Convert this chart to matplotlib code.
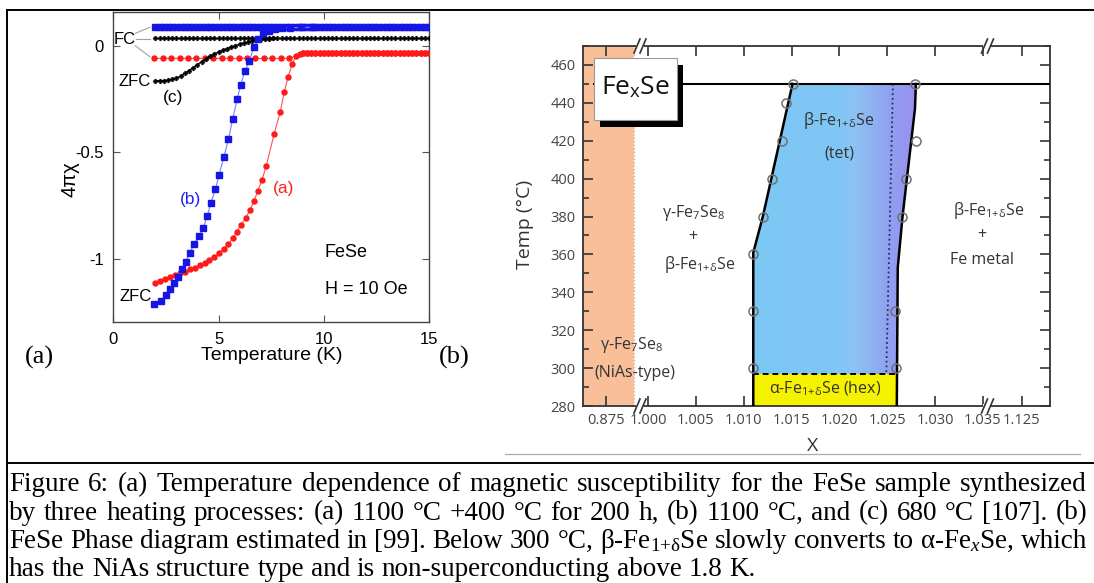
import numpy as np
import matplotlib
matplotlib.use("Agg")
import matplotlib.pyplot as plt
from matplotlib.lines import Line2D
from matplotlib.patches import Rectangle, Polygon
from matplotlib.colors import LinearSegmentedColormap

plt.rcParams["axes.unicode_minus"] = False
plt.rcParams["mathtext.fontset"] = "custom"
plt.rcParams["mathtext.rm"] = "Liberation Serif"
plt.rcParams["mathtext.it"] = "Liberation Serif:italic"

# ======================= DATA: panel (a) =======================
# FC temperatures (K) shared by the field-cooled curves
T_fc = [2.0, 2.2, 2.4, 2.6, 2.8, 3.0, 3.2, 3.4, 3.6, 3.8,
        4.0, 4.2, 4.4, 4.6, 4.8, 5.0, 5.2, 5.4, 5.6, 5.8,
        6.0, 6.2, 6.4, 6.6, 6.8, 7.0, 7.2, 7.4, 7.6, 7.8,
        8.0, 8.2, 8.4, 8.6, 8.8, 9.0, 9.2, 9.4, 9.6, 9.8,
        10.0, 10.2, 10.4, 10.6, 10.8, 11.0, 11.2, 11.4, 11.6, 11.8,
        12.0, 12.2, 12.4, 12.6, 12.8, 13.0, 13.2, 13.4, 13.6, 13.8,
        14.0, 14.2, 14.4, 14.6, 14.8, 15.0]
# (b) 1100 C  - blue, FC
chi_b_fc = [0.086, 0.086, 0.086, 0.086, 0.086, 0.086, 0.086, 0.086, 0.086, 0.086,
            0.086, 0.086, 0.086, 0.086, 0.086, 0.086, 0.086, 0.086, 0.086, 0.086,
            0.086, 0.086, 0.086, 0.086, 0.086, 0.086, 0.086, 0.086, 0.086, 0.086,
            0.086, 0.086, 0.086, 0.086, 0.086, 0.086, 0.086, 0.086, 0.086, 0.086,
            0.086, 0.086, 0.086, 0.086, 0.086, 0.086, 0.086, 0.086, 0.086, 0.086,
            0.086, 0.086, 0.086, 0.086, 0.086, 0.086, 0.086, 0.086, 0.086, 0.086,
            0.086, 0.086, 0.086, 0.086, 0.086, 0.086]
# (c) 680 C - black, FC
chi_c_fc = [0.034, 0.034, 0.034, 0.034, 0.034, 0.034, 0.034, 0.034, 0.034, 0.034,
            0.034, 0.034, 0.034, 0.034, 0.034, 0.034, 0.034, 0.034, 0.034, 0.034,
            0.034, 0.034, 0.034, 0.034, 0.034, 0.034, 0.034, 0.034, 0.034, 0.034,
            0.034, 0.034, 0.034, 0.034, 0.034, 0.034, 0.034, 0.034, 0.034, 0.034,
            0.034, 0.034, 0.034, 0.034, 0.034, 0.034, 0.034, 0.034, 0.034, 0.034,
            0.034, 0.034, 0.034, 0.034, 0.034, 0.034, 0.034, 0.034, 0.034, 0.034,
            0.034, 0.034, 0.034, 0.034, 0.034, 0.034]

# (b) ZFC - blue
T_b_zfc = [1.95, 2.25, 2.49, 2.69, 2.88, 3.06, 3.25, 3.44, 3.63, 3.85,
           4.09, 4.28, 4.47, 4.64, 4.85, 5.02, 5.26, 5.47, 5.67, 5.89,
           6.05, 6.26, 6.46, 6.68, 6.89, 7.13, 7.40, 7.70, 8.00, 8.40,
           8.90, 9.50]
chi_b_zfc = [-1.211, -1.197, -1.169, -1.142, -1.114, -1.083, -1.048, -1.012, -0.970, -0.928,
             -0.892, -0.853, -0.797, -0.736, -0.673, -0.608, -0.520, -0.439, -0.345, -0.248,
             -0.184, -0.119, -0.072, -0.008, 0.031, 0.058, 0.070, 0.077, 0.081, 0.084,
             0.085, 0.086]

# (c) ZFC - black
T_c_zfc = [2.0, 2.2, 2.4, 2.6, 2.8, 3.0, 3.2, 3.4, 3.6, 3.8,
           4.0, 4.2, 4.4, 4.6, 4.8, 5.0, 5.2, 5.4, 5.6, 5.8,
           6.0, 6.2, 6.4, 6.6, 6.8, 7.0, 7.2, 7.4, 7.6]
chi_c_zfc = [-0.164, -0.164, -0.164, -0.162, -0.158, -0.152, -0.143, -0.130, -0.117, -0.103,
             -0.089, -0.075, -0.062, -0.050, -0.039, -0.030, -0.022, -0.014, -0.007, 0.000,
             0.006, 0.012, 0.017, 0.022, 0.026, 0.029, 0.031, 0.033, 0.034]

# (a) 1100 C + 400 C - red
T_a_fc = [1.95, 2.35, 2.75, 3.15, 3.55, 3.95, 4.35, 4.75, 5.15, 5.55,
          5.95, 6.35, 6.75, 7.15, 7.55, 7.95, 8.35]
chi_a_fc = [-0.060, -0.060, -0.060, -0.060, -0.060, -0.060, -0.060, -0.060, -0.060, -0.060,
            -0.060, -0.060, -0.060, -0.060, -0.060, -0.060, -0.060]
T_a_zfc = [2.00, 2.23, 2.47, 2.71, 2.95, 3.18, 3.42, 3.66, 3.88, 4.10,
           4.34, 4.56, 4.80, 5.02, 5.26, 5.47, 5.67, 5.88, 6.08, 6.29,
           6.50, 6.68, 6.87, 7.07, 7.26, 7.64, 7.93, 8.12, 8.30, 8.50,
           8.68, 8.85]
chi_a_zfc = [-1.114, -1.103, -1.092, -1.083, -1.077, -1.067, -1.059, -1.048, -1.041, -1.030,
             -1.019, -1.005, -0.989, -0.973, -0.952, -0.930, -0.903, -0.872, -0.839, -0.808,
             -0.770, -0.729, -0.680, -0.628, -0.566, -0.415, -0.311, -0.219, -0.147, -0.087,
             -0.048, -0.038]
T_a_high = [9.0, 9.2, 9.4, 9.6, 9.8, 10.0, 10.2, 10.4, 10.6, 10.8,
            11.0, 11.2, 11.4, 11.6, 11.8, 12.0, 12.2, 12.4, 12.6, 12.8,
            13.0, 13.2, 13.4, 13.6, 13.8, 14.0, 14.2, 14.4, 14.6, 14.8, 15.0]
chi_a_high = [-0.036, -0.036, -0.036, -0.036, -0.036, -0.036, -0.036, -0.036, -0.036, -0.036,
              -0.036, -0.036, -0.036, -0.036, -0.036, -0.036, -0.036, -0.036, -0.036, -0.036,
              -0.036, -0.036, -0.036, -0.036, -0.036, -0.036, -0.036, -0.036, -0.036, -0.036,
              -0.036]

a_xticks = [0, 5, 10, 15]
a_yticks = [0, -0.5, -1]
a_yticklabels = ["0", "-0.5", "-1"]

# ======================= DATA: panel (b) =======================
b_xticks = [0.875, 1.000, 1.005, 1.010, 1.015, 1.020, 1.025, 1.030, 1.035, 1.125]
b_xticklabels = ["0.875", "1.000", "1.005", "1.010", "1.015", "1.020", "1.025",
                 "1.030", "1.035", "1.125"]
b_yticks = [280, 300, 320, 340, 360, 380, 400, 420, 440, 460]

# measured boundary points (open circles)
left_pts_x = [1.0151, 1.0144, 1.0140, 1.0130, 1.0120, 1.0110, 1.0110, 1.0110]
left_pts_T = [450, 440, 420, 400, 380, 360, 330, 300]
right_pts_x = [1.0279, 1.0280, 1.0270, 1.0265, 1.0258, 1.0259]
right_pts_T = [450, 420, 400, 380, 330, 300]
# drawn phase boundaries
left_line_x = [1.0151, 1.0120, 1.0110, 1.0110]
left_line_T = [450, 380, 361, 280]
right_line_x = [1.0280, 1.0279, 1.0266, 1.0261, 1.0260]
right_line_T = [450, 437, 380, 353, 280]
# dotted line inside beta region
dotted_x = [1.0256, 1.0249]
dotted_T = [450, 297]
T_top = 450          # upper horizontal line
T_alpha = 297        # alpha / beta transition (dashed)
alpha_x = [1.011, 1.026]
gamma_right = 0.87796  # edge of the gamma-Fe7Se8 band
# colour gradient across the beta region
grad_x = [1.0105, 1.0200, 1.0215, 1.0235, 1.0255, 1.0285]
grad_c = ["#7cc7f4", "#80c6f4", "#8cc2f4", "#8fb1f1", "#8f9ef0", "#9c8cef"]

# ======================= FIGURE =======================
W, H = 1094, 583
fig = plt.figure(figsize=(W / 100, H / 100), dpi=100)


def fx(px):
    return px / W


def fy(py):
    return 1 - py / H


# ---------------- panel (a) ----------------
ax1 = fig.add_axes([fx(113.3), fy(322), fx(429) - fx(113.3), fy(11.7) - fy(322)])
ax1.set_xlim(0, 15)
ax1.set_ylim(-1.295, 0.159)

red, blue = "#ff1a1a", "#1515e6"
ax1.plot(T_a_fc + T_a_high, chi_a_fc + chi_a_high, "-o", color="#ff5050", lw=0.8,
         ms=3.6, mfc=red, mec=red, zorder=3)
ax1.plot(T_a_zfc + T_a_high, chi_a_zfc + chi_a_high, "-o", color="#ff5050", lw=0.8,
         ms=3.6, mfc=red, mec=red, zorder=3)
ax1.plot(T_fc, chi_c_fc, "-P", color="black", lw=1.0, ms=3.4, mew=0.3, zorder=4)
ax1.plot(T_c_zfc, chi_c_zfc, "-P", color="black", lw=1.0, ms=3.4, mew=0.3, zorder=4)
ax1.plot(T_fc, chi_b_fc, "-s", color=blue, lw=0.8, ms=4.0, mfc=blue, mec=blue, zorder=5)
ax1.plot(T_b_zfc, chi_b_zfc, "-s", color="#7080ff", lw=0.8, ms=4.0, mfc=blue, mec=blue,
         zorder=5)

ax1.set_xticks(a_xticks)
ax1.set_yticks(a_yticks)
ax1.set_yticklabels(a_yticklabels)
ax1.tick_params(direction="in", top=True, right=True, length=5, width=0.8,
                colors="#555", labelcolor="black", labelsize=12, pad=7)
for lab in ax1.get_xticklabels() + ax1.get_yticklabels():
    lab.set_family("Liberation Sans")
for s in ax1.spines.values():
    s.set_color("#444")
    s.set_linewidth(1.0)

sans = "Liberation Sans"
ax1.text(1.05, 0.027, "FC", ha="right", va="center", fontsize=12, family=sans)
for (x0, y0, x1, y1) in [(1.05, 0.058, 1.74, 0.086), (1.08, 0.032, 1.74, 0.032),
                         (1.05, -0.001, 1.74, -0.052)]:
    ax1.plot([x0, x1], [y0, y1], color="#a0a0a0", lw=0.8, zorder=2)
ax1.text(1.76, -0.169, "ZFC", ha="right", va="center", fontsize=12, family=sans)
ax1.text(1.84, -1.177, "ZFC", ha="right", va="center", fontsize=12, family=sans)
ax1.text(2.85, -0.242, "(c)", ha="center", va="center", fontsize=12.5, family=sans)
ax1.text(3.68, -0.72, "(b)", ha="center", va="center", fontsize=12.5, family=sans,
         color="#2020ff")
ax1.text(8.11, -0.669, "(a)", ha="center", va="center", fontsize=12.5, family=sans,
         color="#ff2020")
ax1.text(10.05, -0.970, "FeSe", ha="left", va="center", fontsize=13, family=sans)
ax1.text(10.05, -1.142, "H = 10 Oe", ha="left", va="center", fontsize=13, family=sans)

fig.text(fx(272), fy(356), "Temperature (K)", ha="center", va="center", fontsize=14,
         family=sans)
fig.text(fx(70), fy(179), "4πχ", ha="center", va="center", fontsize=14.5, family=sans,
         rotation=90)
fig.text(fx(39), fy(357), "(a)", ha="center", va="center", fontsize=19,
         family="Liberation Serif")
fig.text(fx(454), fy(357), "(b)", ha="center", va="center", fontsize=19,
         family="Liberation Serif")

# ---------------- panel (b) ----------------
ax2 = fig.add_axes([fx(582.5), fy(406), fx(1049.5) - fx(582.5), fy(46) - fy(406)])

# broken-axis scale (piecewise linear)
XB = [0.87257, 0.87857, 0.99916, 1.03548, 1.12143, 1.12791]
UB = [582.5, 640.0, 640.001, 987.5, 987.501, 1049.5]


def fwd(x):
    return np.interp(np.asarray(x, dtype=float), XB, UB)


def inv(u):
    return np.interp(np.asarray(u, dtype=float), UB, XB)


ax2.set_xscale("function", functions=(fwd, inv))
ax2.set_xlim(XB[0], XB[-1])
ax2.set_ylim(280, 470)

# gamma band
ax2.axvspan(XB[0], gamma_right, color="#f8bf98", lw=0, zorder=1)
ax2.axvline(gamma_right, color="#c8b8b0", lw=1.0, ls=(0, (1, 1.5)), zorder=1)

# beta region with gradient
poly_verts = ([(x, max(t, T_alpha)) for x, t in zip(left_line_x[::-1], left_line_T[::-1])] +
              [(x, max(t, T_alpha)) for x, t in zip(right_line_x, right_line_T)])
beta_poly = Polygon(poly_verts, closed=True, transform=ax2.transData, fc="none",
                    ec="none")
ax2.add_patch(beta_poly)
cmap = LinearSegmentedColormap.from_list(
    "beta", [((gx - grad_x[0]) / (grad_x[-1] - grad_x[0]), c) for gx, c in zip(grad_x, grad_c)])
gx_edges = np.linspace(grad_x[0], grad_x[-1], 241)
gc = ((gx_edges[:-1] + gx_edges[1:]) / 2 - grad_x[0]) / (grad_x[-1] - grad_x[0])
mesh = ax2.pcolormesh(gx_edges, [T_alpha, T_top], gc[np.newaxis, :], cmap=cmap,
                      vmin=0, vmax=1, shading="flat", zorder=2)
mesh.set_clip_path(beta_poly)

# alpha region
ax2.fill_between(alpha_x, 280, T_alpha, color="#f5f200", lw=0, zorder=2)
ax2.plot(alpha_x, [T_alpha, T_alpha], color="black", lw=1.4, ls=(0, (3, 2)), zorder=4)

ax2.plot(dotted_x, dotted_T, color="#2a2a60", lw=1.3, ls=(0, (1, 1.6)), zorder=3)
ax2.plot(left_line_x, left_line_T, color="black", lw=1.8, zorder=4)
ax2.plot(right_line_x, right_line_T, color="black", lw=1.8, zorder=4)
ax2.axhline(T_top, xmin=0.024, color="black", lw=1.5, zorder=4)
ax2.plot(left_pts_x, left_pts_T, "o", mfc="none", mec="#707070", ms=6.5, mew=1.1, zorder=6)
ax2.plot(right_pts_x, right_pts_T, "o", mfc="none", mec="#707070", ms=6.5, mew=1.1,
         zorder=6)

ax2.set_xticks(b_xticks)
ax2.set_xticklabels(b_xticklabels)
ax2.set_yticks(b_yticks)
ax2.set_yticks([290, 310, 330, 350, 370, 390, 410, 430, 450, 470], minor=True)
ax2.tick_params(which="both", direction="in", top=True, right=True, colors="#333",
                labelcolor="#444", width=1.2)
ax2.tick_params(which="major", length=7, labelsize=10.5, pad=5)
ax2.tick_params(which="minor", length=4)
for lab in ax2.get_xticklabels() + ax2.get_yticklabels():
    lab.set_family("Open Sans")
for s in ax2.spines.values():
    s.set_color("#333")
    s.set_linewidth(1.3)

# axis breaks
for xf in (0.1231, 0.8672):
    for yf in (0.0, 1.0):
        ax2.add_patch(Rectangle((xf - 4 / 467, yf - 2.5 / 360), 8 / 467, 5 / 360,
                                transform=ax2.transAxes, fc="white", ec="none",
                                clip_on=False, zorder=7))
        for off in (-3.0, 3.0):
            ax2.add_line(Line2D([xf + (off - 3) / 467, xf + (off + 3) / 467],
                                [yf - 7 / 360, yf + 7 / 360], transform=ax2.transAxes,
                                color="#333", lw=1.2, clip_on=False, zorder=8))

# Fe_x Se box with shadow
bx0, bx1, by0, by1 = 0.0238, 0.2019, 0.794, 0.966
ax2.add_patch(Rectangle((bx0 + 6.5 / 467, by0 - 6.7 / 360), bx1 - bx0, by1 - by0,
                        transform=ax2.transAxes, fc="black", ec="none", zorder=8))
ax2.add_patch(Rectangle((bx0, by0), bx1 - bx0, by1 - by0, transform=ax2.transAxes,
                        fc="white", ec="#999", lw=0.8, zorder=9))
osans = "Open Sans"
ax2.text((bx0 + bx1) / 2, 0.885, r"Fe$_{\mathregular{x}}$Se", transform=ax2.transAxes,
         ha="center", va="center", fontsize=19, family=osans, color="#111", zorder=10)

tc = "#333"
fs = 11.5
beta = r"β-Fe$_{\mathregular{1{+}δ}}$Se"
gam = r"γ-Fe$_{\mathregular{7}}$Se$_{\mathregular{8}}$"
for (xa, ya, s) in [(0.549, 0.794, beta), (0.549, 0.702, "(tet)"),
                    (0.237, 0.537, gam), (0.237, 0.469, "+"), (0.252, 0.394, beta),
                    (0.870, 0.544, beta), (0.855, 0.475, "+"), (0.855, 0.406, "Fe metal"),
                    (0.106, 0.169, gam), (0.112, 0.091, "(NiAs-type)"),
                    (0.519, 0.049, r"α-Fe$_{\mathregular{1{+}δ}}$Se (hex)")]:
    ax2.text(xa, ya, s, transform=ax2.transAxes, ha="center", va="center", fontsize=fs,
             family=osans, color=tc, zorder=10)

fig.text(fx(525), fy(224), "Temp (°C)", rotation=90, ha="center", va="center",
         fontsize=14, family=osans, color="#333")
fig.text(fx(813), fy(446), "X", ha="center", va="center", fontsize=14, family=osans,
         color="#333")
fig.add_artist(Line2D([fx(505), fx(1080)], [fy(454), fy(454)], transform=fig.transFigure,
                      color="#aaaaaa", lw=0.9))

# ---------------- frame ----------------
for (x0, y0, x1, y1) in [(7.3, 10, 1094, 10), (7.3, 10, 7.3, 583), (7.3, 463, 1094, 463)]:
    fig.add_artist(Line2D([fx(x0), fx(x1)], [fy(y0), fy(y1)], transform=fig.transFigure,
                          color="black", lw=1.4))

# ---------------- caption (justified) ----------------
cap_lines = [
    "Figure 6: (a) Temperature dependence of magnetic susceptibility for the FeSe sample synthesized",
    "by three heating processes: (a) 1100 °C +400 °C for 200 h, (b) 1100 °C, and (c) 680 °C [107]. (b)",
    r"FeSe Phase diagram estimated in [99]. Below 300 °C, β-Fe$_{\mathregular{1{+}δ}}$Se slowly converts to α-Fe$_{\mathit{x}}$Se, which",
    "has the NiAs structure type and is non-superconducting above 1.8 K.",
]
cap_base = [491, 519.5, 548, 576.5]
CAP_FS = 19.5
x_left, x_right = 9, 1087
renderer = fig.canvas.get_renderer()
for i, (line, yb) in enumerate(zip(cap_lines, cap_base)):
    words = line.split(" ")
    fsz = CAP_FS
    while True:
        objs = [fig.text(0, fy(yb), w, fontsize=fsz, family="Liberation Serif",
                         va="baseline", ha="left") for w in words]
        widths = [o.get_window_extent(renderer).width for o in objs]
        min_gap = fsz * 100 / 72 * 0.2
        if i == len(cap_lines) - 1 or sum(widths) + min_gap * (len(words) - 1) <= x_right - x_left:
            break
        for o in objs:
            o.remove()
        fsz -= 0.25
    if i < len(cap_lines) - 1:
        gap = (x_right - x_left - sum(widths)) / (len(words) - 1)
    else:
        gap = fsz * 100 / 72 * 0.25
    x = x_left
    for o, w in zip(objs, widths):
        o.set_x(fx(x))
        x += w + gap

fig.savefig("out.png", dpi=100)
